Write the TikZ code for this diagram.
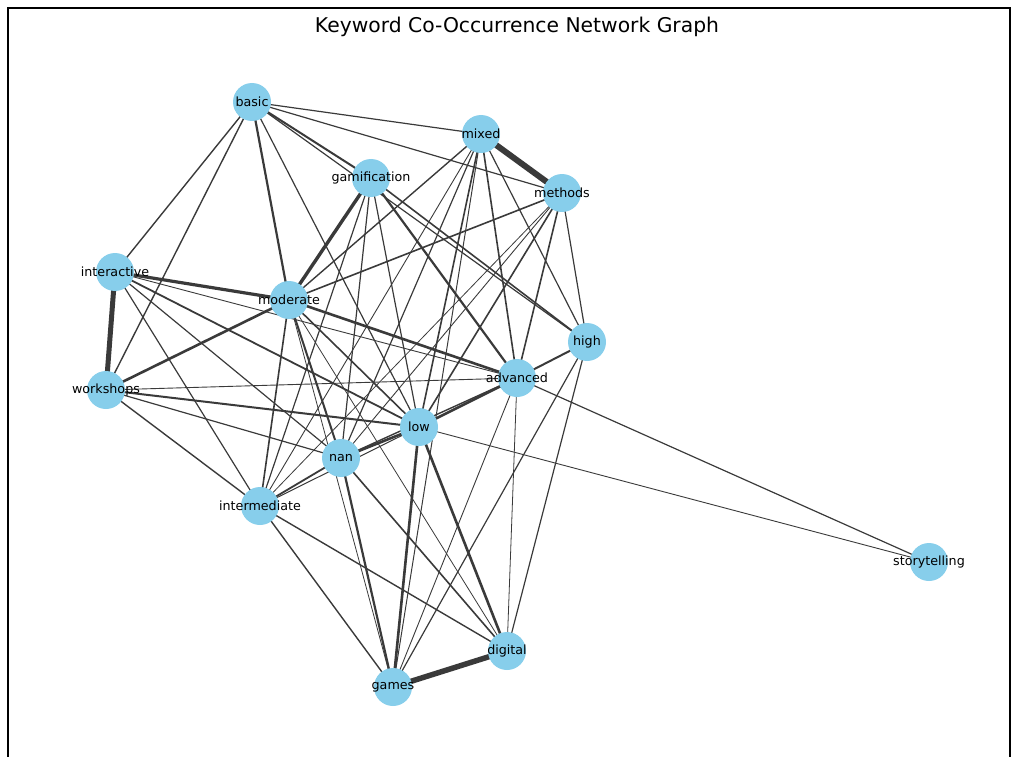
\documentclass[tikz,border=0pt]{standalone}
\usepackage{fontspec}
\setmainfont{DejaVu Sans}
\usetikzlibrary{backgrounds}
\definecolor{skyblue}{RGB}{135,206,235}
\definecolor{edgegray}{RGB}{58,58,58}
\tikzset{
  kw/.style={circle,fill=skyblue,draw=none,minimum size=38pt,inner sep=0pt,
    label={[lbl]center:#1}},
  lbl/.style={font=\fontsize{12.7}{14}\selectfont,text=black,inner sep=0pt},
  ed/.style={draw=edgegray,line width=#1},
}
\begin{document}
\begin{tikzpicture}[x=1pt,y=-1pt]
\useasboundingbox (0,0) rectangle (1012,757);
\draw[line width=1.5pt,black] (8,775) -- (8,8) -- (1010,8) -- (1010,775);
\node[font=\fontsize{20.3}{24}\selectfont,text=black] (title) at (517,27) {Keyword Co-Occurrence Network Graph};

\node[kw=basic] (basic) at (252,102) {};
\node[kw=mixed] (mixed) at (481,134) {};
\node[kw=gamification] (gam) at (371,178) {};
\node[kw=methods] (methods) at (562,193) {};
\node[kw=interactive] (inter) at (115,272) {};
\node[kw=moderate] (mod) at (289,300) {};
\node[kw=high] (high) at (587,342) {};
\node[kw=advanced] (adv) at (517,378) {};
\node[kw=workshops] (work) at (106,390) {};
\node[kw=low] (low) at (419,427) {};
\node[kw=nan] (nan) at (341,458) {};
\node[kw=intermediate] (intm) at (260,506) {};
\node[kw=storytelling] (story) at (929,562) {};
\node[kw=digital] (dig) at (507,651) {};
\node[kw=games] (games) at (393,687) {};

\begin{pgfonlayer}{background}
\foreach \a/\b/\w in {
 basic/inter/1.4, basic/work/1.4, basic/mod/2.2, basic/low/1.2, basic/mixed/1.2,
 basic/methods/1.2, basic/gam/2, basic/high/1.2,
 mixed/methods/6, mixed/mod/1.4, mixed/intm/0.9, mixed/nan/1.2, mixed/low/1.6,
 mixed/games/1, mixed/adv/1.6, mixed/high/1.2,
 gam/mod/3.4, gam/intm/1.2, gam/nan/1.2, gam/low/1.2, gam/adv/2.2, gam/high/1.6,
 methods/mod/1.6, methods/intm/0.8, methods/nan/0.9, methods/low/1.6,
 methods/adv/1.6, methods/high/1.2,
 inter/work/5, inter/mod/3.2, inter/adv/0.9, inter/low/1.8, inter/nan/1.2, inter/intm/1.2,
 mod/work/2.6, mod/adv/2.6, mod/intm/1.6, mod/nan/2, mod/low/1.6, mod/dig/0.8, mod/games/0.8,
 work/adv/0.9, work/low/2, work/nan/1.2, work/intm/1.4,
 high/adv/2, high/games/1.2, high/dig/1.2,
 adv/story/1.2, adv/low/2.6, adv/games/0.9, adv/dig/0.8, adv/nan/1.4,
 low/story/0.9, low/nan/2.6, low/games/2.6, low/dig/2.6, low/intm/1,
 nan/intm/1.8, nan/games/2.2, nan/dig/1.6,
 intm/games/1.4, intm/dig/1.4, games/dig/5.5}
 { \draw[ed=\w pt] (\a.center) -- (\b.center); }
\end{pgfonlayer}
\end{tikzpicture}
\end{document}
